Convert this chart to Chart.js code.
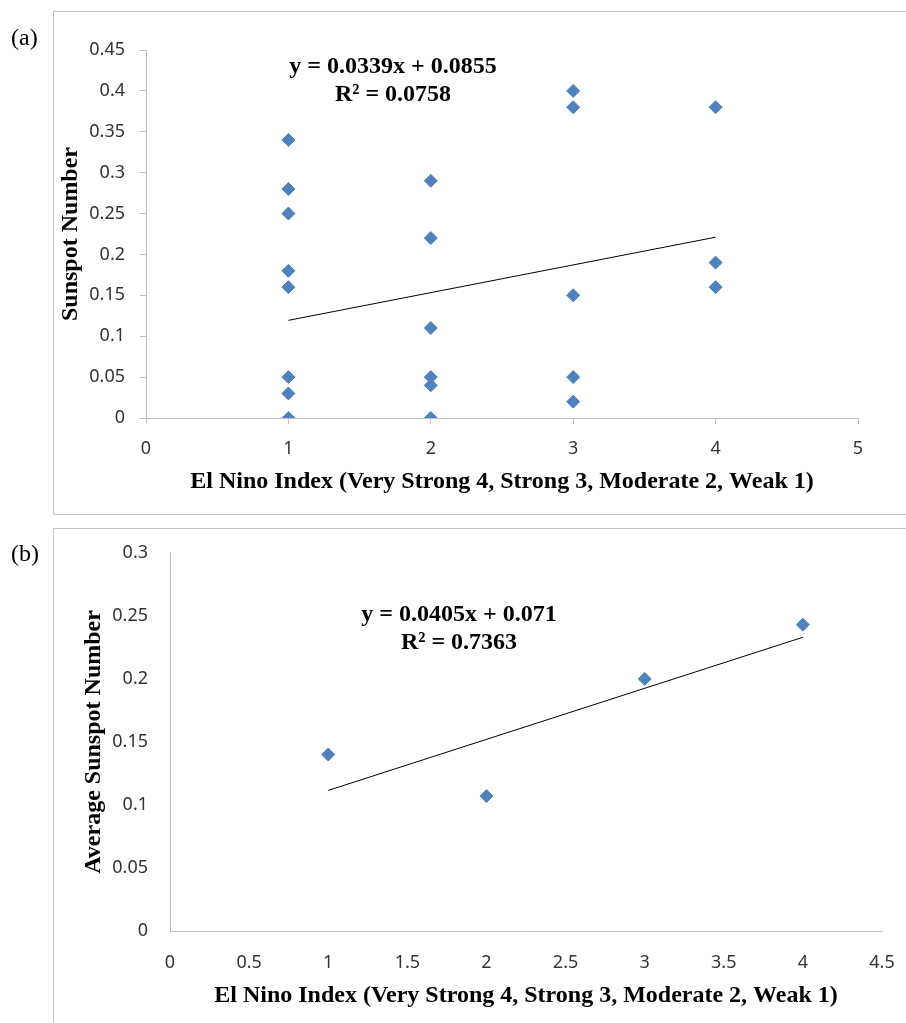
<!DOCTYPE html>
<html>
<head>
<meta charset="utf-8">
<script src="https://cdn.jsdelivr.net/npm/chart.js@4.4.1/dist/chart.umd.min.js"></script>
<style>
  body { margin: 0; width: 906px; height: 1023px; overflow: hidden; position: relative; background: #fff; font-family: "Liberation Serif", "Times New Roman", serif; }
  .panel { position: absolute; left: 53px; width: 900px; border: 1px solid #c4c4c4; }
  #panel-a { top: 11px; height: 502px; }
  #panel-b { top: 528px; height: 600px; }
  canvas { position: absolute; left: 0; }
  #chart-a { top: 0; }
  #chart-b { top: 520px; }
  .tag { position: absolute; left: 11px; font-size: 24px; line-height: 26px; }
  .eq { position: absolute; width: 320px; text-align: center; font-weight: bold; font-size: 24px; line-height: 28px; }
</style>
</head>
<body>
<div class="panel" id="panel-a"></div>
<div class="panel" id="panel-b"></div>
<canvas id="chart-a" width="906" height="520"></canvas>
<canvas id="chart-b" width="906" height="503"></canvas>
<div class="tag" style="top:24px">(a)</div>
<div class="tag" style="top:540px">(b)</div>
<div class="eq" id="eq-a" style="left:233px;top:51px"></div>
<div class="eq" id="eq-b" style="left:299px;top:599px"></div>
<script>
// (a) individual events
const indexA = [1, 1, 1, 1, 1, 1, 1, 1, 2, 2, 2, 2, 2, 2, 3, 3, 3, 3, 3, 4, 4, 4];
const sunspotA = [0.34, 0.28, 0.25, 0.18, 0.16, 0.05, 0.03, 0, 0.29, 0.22, 0.11, 0.05, 0.04, 0, 0.40, 0.38, 0.15, 0.05, 0.02, 0.38, 0.19, 0.16];
const trendA = { slope: 0.0339, intercept: 0.0855, r2: 0.0758, from: 1, to: 4 };

// (b) averages per index
const indexB = [1, 2, 3, 4];
const sunspotB = [0.14, 0.107, 0.2, 0.243];
const trendB = { slope: 0.0405, intercept: 0.071, r2: 0.7363, from: 1, to: 4 };

const xTitle = "El Nino Index (Very Strong 4, Strong 3, Moderate 2, Weak 1)";
const yTitleA = "Sunspot Number";
const yTitleB = "Average Sunspot Number";

const axisColor = "#bfbfbf";
const markerColor = "#4f81bd";
const tickFont = { family: "'Noto Sans', sans-serif", size: 18 };
const titleFont = { family: "'Liberation Serif', serif", size: 24, weight: "bold" };
const fmt = (v) => Number(v.toFixed(2)).toString();

document.getElementById("eq-a").innerHTML = `y = ${trendA.slope}x + ${trendA.intercept}<br>R² = ${trendA.r2}`;
document.getElementById("eq-b").innerHTML = `y = ${trendB.slope}x + ${trendB.intercept}<br>R² = ${trendB.r2}`;

function trendPoints(t) {
  return [t.from, t.to].map((x) => ({ x, y: t.slope * x + t.intercept }));
}

function makeChart(canvas, s) {
  return new Chart(canvas, {
    type: "scatter",
    data: {
      datasets: [
        {
          data: s.xs.map((x, i) => ({ x, y: s.ys[i] })),
          pointStyle: "rectRot",
          pointRadius: 6.5,
          backgroundColor: markerColor,
          borderColor: markerColor,
          borderWidth: 1,
        },
        {
          data: trendPoints(s.trend),
          showLine: true,
          pointRadius: 0,
          borderColor: "#000",
          borderWidth: 1,
        },
      ],
    },
    options: {
      responsive: false,
      animation: false,
      layout: { padding: s.padding },
      plugins: { legend: { display: false }, tooltip: { enabled: false } },
      scales: {
        x: {
          type: "linear",
          min: 0,
          max: s.xMax,
          ticks: { stepSize: s.xStep, padding: s.xTickPad, font: tickFont, color: "#333", callback: fmt },
          grid: { display: s.ticks, drawOnChartArea: false, drawTicks: s.ticks, tickLength: 6, color: axisColor },
          border: { display: true, color: axisColor },
          title: { display: true, text: xTitle, font: titleFont, color: "#000", padding: { top: 0, bottom: s.xTitlePad } },
          afterFit: (scale) => {
            scale.height = s.xHeight;
            scale.paddingLeft = 0;
            scale.paddingRight = 0;
          },
        },
        y: {
          min: 0,
          max: s.yMax,
          ticks: { stepSize: 0.05, padding: s.yTickPad, font: tickFont, color: "#333", callback: fmt },
          grid: { display: s.ticks, drawOnChartArea: false, drawTicks: s.ticks, tickLength: 6, color: axisColor },
          border: { display: true, color: axisColor },
          title: { display: true, text: s.yTitle, font: titleFont, color: "#000", padding: { top: s.yTitlePad, bottom: 0 } },
          afterFit: (scale) => { scale.width = s.yWidth; },
        },
      },
    },
  });
}

makeChart(document.getElementById("chart-a"), {
  xs: indexA, ys: sunspotA, trend: trendA, yTitle: yTitleA,
  xMax: 5, xStep: 1, yMax: 0.45, ticks: true,
  padding: { left: 0, top: 50, right: 48, bottom: 0 },
  xHeight: 102, yWidth: 146, xTickPad: 14, yTickPad: 15, xTitlePad: 24, yTitlePad: 56,
});

makeChart(document.getElementById("chart-b"), {
  xs: indexB, ys: sunspotB, trend: trendB, yTitle: yTitleB,
  xMax: 4.5, xStep: 0.5, yMax: 0.3, ticks: false,
  padding: { left: 0, top: 32, right: 24, bottom: 0 },
  xHeight: 92, yWidth: 170, xTickPad: 21, yTickPad: 22, xTitlePad: 13, yTitlePad: 79,
});
</script>
</body>
</html>
